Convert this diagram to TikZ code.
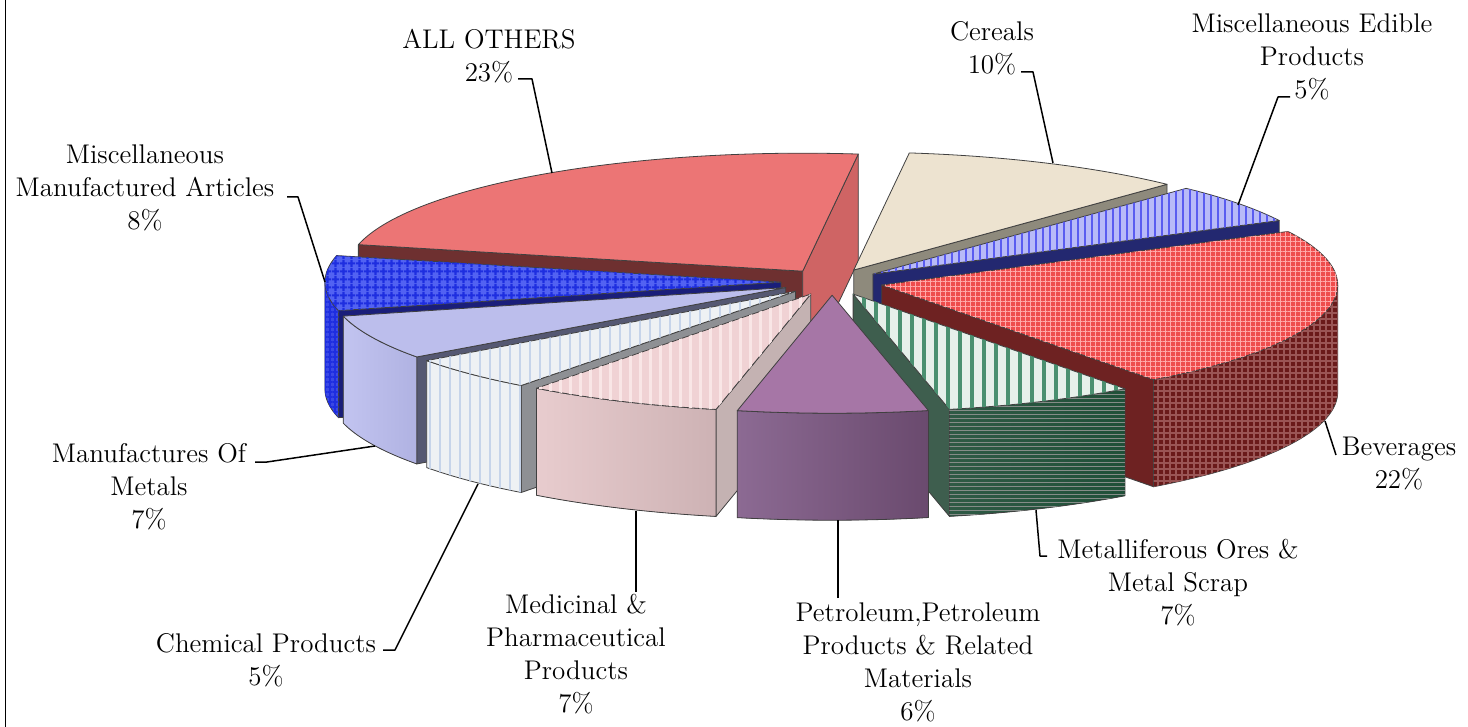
\documentclass[tikz,border=0pt]{standalone}
\usetikzlibrary{patterns.meta}

\definecolor{allTop}{HTML}{EC7575}
\definecolor{allStart}{HTML}{6E3030}
\definecolor{allEnd}{HTML}{CF6464}
\definecolor{cerTop}{HTML}{EDE3D0}
\definecolor{cerEnd}{HTML}{8E8A7C}
\definecolor{edTop}{HTML}{B8BAF8}
\definecolor{edStripe}{HTML}{5A5CF0}
\definecolor{edEnd}{HTML}{232870}
\definecolor{bevTop}{HTML}{EE4C4C}
\definecolor{bevLine}{HTML}{FFA8A8}
\definecolor{bevSide}{HTML}{6A1A1A}
\definecolor{bevSideLine}{HTML}{9A5555}
\definecolor{bevEnd}{HTML}{6E2222}
\definecolor{metTop}{HTML}{E6F0EA}
\definecolor{metStripe}{HTML}{4A9070}
\definecolor{metSideL}{HTML}{2F5A45}
\definecolor{metSideM}{HTML}{858C88}
\definecolor{metSideR}{HTML}{1F5038}
\definecolor{metEnd}{HTML}{3E5E4E}
\definecolor{petTop}{HTML}{A676A6}
\definecolor{petSideL}{HTML}{8C6A93}
\definecolor{petSideR}{HTML}{6A4A6E}
\definecolor{medTop}{HTML}{F0D2D4}
\definecolor{medLine}{HTML}{F9E6E6}
\definecolor{medSideL}{HTML}{E8CCCE}
\definecolor{medSideR}{HTML}{CDB2B4}
\definecolor{medStart}{HTML}{C4B2B2}
\definecolor{chTop}{HTML}{EEF1F4}
\definecolor{chLine}{HTML}{C6D4EA}
\definecolor{chStart}{HTML}{8E9094}
\definecolor{mmTop}{HTML}{BCBEEC}
\definecolor{mmSideL}{HTML}{C2C4F0}
\definecolor{mmSideR}{HTML}{B0B2E2}
\definecolor{mmStart}{HTML}{555872}
\definecolor{maTop}{HTML}{5262F2}
\definecolor{maLine}{HTML}{1E2EE0}
\definecolor{maSide}{HTML}{3A48E6}
\definecolor{maStart}{HTML}{1A1E7A}

% pie geometry, in pixels, y pointing down
\def\cx{832}\def\cy{282}\def\ra{456}\def\rb{118}\def\ex{0.112}\def\dep{107}
\newcommand\rimx[2]{\cx+\ra*(sin(#1)+\ex*sin(#2))}
\newcommand\rimy[2]{\cy-\rb*(cos(#1)+\ex*cos(#2))}

% #1,#2 slice angles, #3 top style, #4,#5 visible rim, #6 rim style,
% #7 start face colour, #8 end face colour
\newcommand\pieslice[8]{%
  \pgfmathsetmacro\smid{(#1+#2)/2}
  \coordinate (apex) at ({\cx+\ra*\ex*sin(\smid)},{\cy-\rb*\ex*cos(\smid)});
  \coordinate (apexb) at ({\cx+\ra*\ex*sin(\smid)},{\cy-\rb*\ex*cos(\smid)+\dep});
  \coordinate (p1) at ({\rimx{#1}{\smid}},{\rimy{#1}{\smid}});
  \coordinate (p1b) at ({\rimx{#1}{\smid}},{\rimy{#1}{\smid}+\dep});
  \coordinate (p2) at ({\rimx{#2}{\smid}},{\rimy{#2}{\smid}});
  \coordinate (p2b) at ({\rimx{#2}{\smid}},{\rimy{#2}{\smid}+\dep});
  \ifx\relax#7\relax\else
    \filldraw[pieedge,fill=#7] (apex) -- (p1) -- (p1b) -- (apexb) -- cycle;
  \fi
  \ifx\relax#8\relax\else
    \filldraw[pieedge,fill=#8] (apex) -- (p2) -- (p2b) -- (apexb) -- cycle;
  \fi
  \ifx\relax#4\relax\else
    \filldraw[pieedge,#6] plot[domain=#4:#5,samples=40] ({\rimx{\x}{\smid}},{\rimy{\x}{\smid}})
      -- plot[domain=#5:#4,samples=40] ({\rimx{\x}{\smid}},{\rimy{\x}{\smid}+\dep}) -- cycle;
  \fi
  \filldraw[pieedge,#3] (apex) -- plot[domain=#1:#2,samples=60] ({\rimx{\x}{\smid}},{\rimy{\x}{\smid}}) -- cycle;
}

\newcommand\lblfont{\fontsize{13.5}{16.5}\selectfont}

\tikzset{
  pieedge/.style={draw=black!75, line width=0.4pt, line join=round},
  lbl/.style={align=center, font=\lblfont, inner sep=0pt},
  leader/.style={line width=0.75pt, line join=round}
}

\begin{document}
\begin{tikzpicture}[x=0.5pt, y=-0.5pt]
\useasboundingbox (0,0) rectangle (1468,727);
\draw[line width=0.5pt] (5,0) -- (5,727);

% slices, back to front
\pieslice{283}{367}{fill=allTop}{}{}{}{allStart}{allEnd}
\pieslice{7}{43.4}{fill=cerTop}{}{}{}{}{cerEnd}
\pieslice{43.4}{63}{fill=edTop,postaction={pattern={Lines[angle=90,distance=3.5pt,line width=1pt]},pattern color=edStripe}}{}{}{}{}{edEnd}
\pieslice{256}{283}{fill=maTop,postaction={pattern={Hatch[angle=0,distance=4pt,line width=1.2pt]},pattern color=maLine}}{256}{270}{fill=maSide,postaction={pattern={Hatch[angle=0,distance=2.5pt,line width=0.6pt]},pattern color=maLine}}{maStart}{}
\pieslice{63}{143.4}{fill=bevTop,postaction={pattern={Hatch[angle=0,distance=2.5pt,line width=0.5pt]},pattern color=bevLine}}{90}{143.4}{fill=bevSide,postaction={pattern={Hatch[angle=0,distance=3pt,line width=0.6pt]},pattern color=bevSideLine}}{}{bevEnd}
\pieslice{234}{256}{fill=mmTop}{234}{256}{left color=mmSideL,right color=mmSideR}{mmStart}{}
\pieslice{217}{234}{fill=chTop,postaction={pattern={Lines[angle=90,distance=5pt,line width=0.8pt]},pattern color=chLine}}{217}{234}{fill=chTop,postaction={pattern={Lines[angle=90,distance=5pt,line width=0.8pt]},pattern color=chLine}}{chStart}{}
\pieslice{192}{217}{fill=medTop,postaction={pattern={Lines[angle=90,distance=5pt,line width=1.5pt]},pattern color=medLine}}{192}{217}{left color=medSideL,right color=medSideR}{medStart}{}
\pieslice{143.4}{167.8}{fill=metTop,postaction={pattern={Lines[angle=90,distance=6pt,line width=2pt]},pattern color=metStripe}}{143.4}{167.8}{left color=metSideL,middle color=metSideM,right color=metSideR,postaction={pattern={Lines[angle=0,distance=2pt,line width=0.5pt]},pattern color=metSideM}}{}{metEnd}
\pieslice{167.8}{192}{fill=petTop}{167.8}{192}{left color=petSideL,right color=petSideR}{}{}

% labels
\node[lbl] (articles) at (145,188) {Miscellaneous\\Manufactured Articles\\8\%};
\node[lbl] (allothers) at (489,56) {ALL OTHERS\\23\%};
\node[lbl] (cereals) at (992,48) {Cereals\\10\%};
\node[lbl] (edible) at (1312,57) {Miscellaneous Edible\\Products\\5\%};
\node[lbl] (beverages) at (1399,464) {Beverages\\22\%};
\node[lbl] (ores) at (1178,583) {Metalliferous Ores \&\\Metal Scrap\\7\%};
\node[lbl] (petroleum) at (918,662) {Petroleum,Petroleum\\Products \& Related\\Materials\\6\%};
\node[lbl] (medicinal) at (576,654) {Medicinal \&\\Pharmaceutical\\Products\\7\%};
\node[lbl] (chemical) at (266,660) {Chemical Products\\5\%};
\node[lbl] (metals) at (149,487) {Manufactures Of\\Metals\\7\%};

% leader lines
\coordinate (articles-in) at (287,197);
\coordinate (articles-tip) at (325,282);
\coordinate (allothers-in) at (518,79);
\coordinate (allothers-tip) at (552,173);
\coordinate (cereals-in) at (1021,72);
\coordinate (cereals-tip) at (1053,163);
\coordinate (edible-in) at (1290,97);
\coordinate (edible-tip) at (1238,205);
\coordinate (beverages-in) at (1336,455);
\coordinate (beverages-tip) at (1325,421);
\coordinate (ores-in) at (1047,556);
\coordinate (ores-tip) at (1036,510);
\coordinate (petroleum-in) at (838,598);
\coordinate (petroleum-tip) at (838,520);
\coordinate (medicinal-in) at (636,592);
\coordinate (medicinal-tip) at (636,511);
\coordinate (chemical-in) at (383,650);
\coordinate (chemical-tip) at (478,484);
\coordinate (metals-in) at (255,462);
\coordinate (metals-tip) at (375,446);

\draw[leader] (articles-in) -- ++(11,0) -- (articles-tip);
\draw[leader] (allothers-in) -- ++(14,0) -- (allothers-tip);
\draw[leader] (cereals-in) -- ++(12,0) -- (cereals-tip);
\draw[leader] (edible-in) -- ++(-12,0) -- (edible-tip);
\draw[leader] (beverages-in) -- (beverages-tip);
\draw[leader] (ores-in) -- ++(-7,0) -- (ores-tip);
\draw[leader] (petroleum-in) -- (petroleum-tip);
\draw[leader] (medicinal-in) -- (medicinal-tip);
\draw[leader] (chemical-in) -- ++(12,0) -- (chemical-tip);
\draw[leader] (metals-in) -- ++(12,0) -- (metals-tip);
\end{tikzpicture}
\end{document}
